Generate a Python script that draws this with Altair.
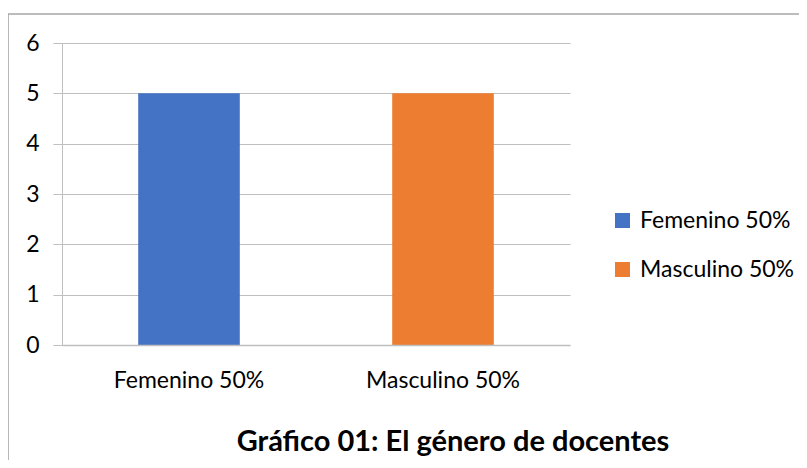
import altair as alt
import pandas as pd

categories = ["Femenino 50%", "Masculino 50%"]
values = [5, 5]
colors = ["#4472C4", "#ED7D31"]
y_ticks = [0, 1, 2, 3, 4, 5, 6]
title_text = "Gráfico 01: El género de docentes"

df = pd.DataFrame({"cat": categories, "val": values})

FONT = "Lato"
FS = 23
W, H = 508, 302

bars = alt.Chart(df).mark_bar().encode(
    x=alt.X("cat:N", sort=categories, title=None,
            scale=alt.Scale(paddingInner=0.6, paddingOuter=0.3),
            axis=alt.Axis(labelAngle=0, labelFontSize=FS, labelFont=FONT, labelColor="#000000",
                          ticks=False, labelPadding=24, domainColor="#bfbfbf", domainWidth=1.3,
                          grid=False, zindex=1)),
    y=alt.Y("val:Q", title=None,
            scale=alt.Scale(domain=[0, 6], nice=False),
            axis=alt.Axis(values=y_ticks, labelFontSize=FS, labelFont=FONT, labelColor="#000000",
                          tickSize=9, tickColor="#bfbfbf", labelPadding=14, domainColor="#bfbfbf",
                          gridColor="#bfbfbf", gridWidth=1.2, format="d", zindex=0)),
    color=alt.Color("cat:N", sort=categories,
                    scale=alt.Scale(domain=categories, range=colors),
                    legend=alt.Legend(title=None, orient="none", legendX=549, legendY=166,
                                      symbolType="square", symbolSize=225, symbolStrokeWidth=0,
                                      labelFontSize=FS, labelFont=FONT, labelColor="#000000",
                                      rowPadding=25, symbolOffset=0, labelOffset=6)),
)

border = alt.Chart(pd.DataFrame({"k": [0]})).mark_rect(
    filled=False, stroke="#a6a6a6", strokeWidth=1.6
).encode(x=alt.value(-54), x2=alt.value(W + 260), y=alt.value(-29), y2=alt.value(H + 200))

title = alt.Chart(pd.DataFrame({"t": [title_text]})).mark_text(
    font=FONT, fontSize=29, fontWeight="bold", color="#000000", baseline="alphabetic", align="center"
).encode(text="t:N", x=alt.value(391), y=alt.value(408))

chart = alt.layer(border, bars, title).properties(
    width=W, height=H,
    autosize=alt.AutoSizeParams(type="none"),
    padding={"left": 54, "top": 35, "right": 229, "bottom": 115},
).configure_view(stroke=None)

chart.save("out.html", embed_options={"renderer": "svg", "actions": False})
